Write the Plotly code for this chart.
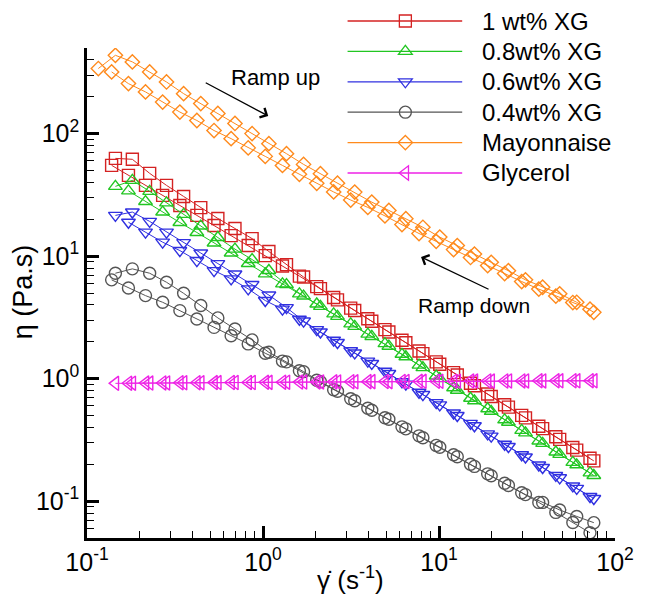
import math
import plotly.graph_objects as go

# Shear rates (1/s) of the ramp-up and ramp-down sweeps
shear_up = [0.116, 0.145, 0.181, 0.227, 0.283, 0.354, 0.443, 0.554, 0.693, 0.867,
            1.08, 1.36, 1.70, 2.12, 2.65, 3.32, 4.15, 5.19, 6.48, 8.10,
            10.1, 12.7, 15.9, 19.8, 24.8, 31.0, 38.8, 48.5, 60.6, 75.8]
shear_down = [0.138, 0.172, 0.215, 0.269, 0.337, 0.421, 0.527, 0.659, 0.824, 1.03,
              1.29, 1.61, 2.02, 2.52, 3.15, 3.94, 4.93, 6.16, 7.70, 9.64,
              12.1, 15.1, 18.9, 23.6, 29.5, 36.9, 46.1, 57.6, 72.1]

# Apparent viscosity (Pa.s); None = no reading at that shear rate
xg10_up = [None, 62.8, 61.7, 47.4, 37.8, 30.7, 24.9, 20.3, 16.8, 13.9,
           10.9, 8.53, 6.75, 5.43, 4.39, 3.60, 2.94, 2.40, 1.96, 1.60,
           1.31, 1.07, 0.875, 0.715, 0.585, 0.478, 0.391, 0.319, 0.261, 0.213]
xg10_down = [55.1, 45.6, 37.8, 31.3, 25.9, 21.5, 17.8, 14.7, 12.2, 10.1,
             8.30, 6.87, 5.64, 4.60, 3.76, 3.08, 2.51, 2.06, 1.68, 1.37,
             1.12, 0.917, 0.750, 0.612, 0.501, 0.409, 0.335, 0.274, 0.224]

xg08_up = [None, 37.1, 41.5, 33.8, 27.2, 21.9, 17.6, 14.2, 11.4, 9.38,
           7.63, 5.86, 4.72, 3.89, 3.22, 2.67, 2.21, 1.84, 1.51, 1.23,
           1.00, 0.804, 0.659, 0.541, 0.440, 0.361, 0.296, 0.241, 0.198, 0.162]
xg08_down = [None, 34.1, 27.9, 22.9, 18.8, 15.6, 12.8, 10.6, 8.70, 7.16,
             5.94, 4.92, 4.07, 3.38, 2.80, 2.31, 1.93, 1.58, 1.29, 1.05,
             0.843, 0.692, 0.568, 0.461, 0.378, 0.310, 0.252, 0.207, 0.170]

xg06_up = [None, 21.5, 22.9, 19.2, 15.7, 12.9, 10.6, 8.69, 7.14, 5.86,
           4.81, 3.80, 2.95, 2.40, 1.97, 1.62, 1.33, 1.10, 0.902, 0.741,
           0.610, 0.500, 0.412, 0.339, 0.279, 0.229, 0.188, 0.155, 0.127, 0.105]
xg06_down = [None, 18.9, 15.7, 13.0, 11.1, 9.20, 7.62, 6.52, 5.40, 4.34,
             3.69, 3.05, 2.51, 2.06, 1.69, 1.39, 1.15, 0.942, 0.774, 0.637,
             0.524, 0.431, 0.354, 0.291, 0.239, 0.197, 0.162, 0.133, 0.109]

xg04_up = [None, 7.25, 7.87, 7.25, 6.12, 4.97, 3.95, 3.13, 2.54, 2.07,
           1.64, 1.37, 1.14, 0.944, 0.789, 0.659, 0.552, 0.466, 0.389, 0.329,
           0.275, 0.230, 0.192, 0.161, 0.134, 0.113, 0.0976, 0.0847, 0.0750, 0.0667]
xg04_down = [6.40, 5.50, 4.76, 4.20, 3.59, 3.07, 2.62, 2.24, 1.92, 1.61,
             1.39, 1.16, 0.970, 0.811, 0.685, 0.573, 0.479, 0.404, 0.341, 0.285,
             0.239, 0.200, 0.167, 0.140, 0.117, 0.0976, 0.0809, 0.0670, 0.0552]

mayo_up = [340, 436, 385, 319, 264, 212, 176, 146, 121, 100,
           82.8, 68.6, 56.1, 47.1, 39.4, 33.3, 27.6, 23.6, 20.2, 17.2,
           14.3, 12.2, 10.4, 8.9, 7.6, 6.4, 5.57, 4.92, 4.20, 3.48]
mayo_down = [319, 256, 219, 181, 150, 128, 106, 91, 76.5, 65.2,
             55.0, 46.5, 39.3, 33.4, 28.7, 25.0, 21.3, 18.1, 15.3, 13.2,
             11.3, 9.75, 8.38, 7.21, 6.20, 5.38, 4.72, 4.18, 3.69]

glyc_up = [None, 0.915, 0.918, 0.92, 0.922, 0.925, 0.925, 0.928, 0.93, 0.93,
           0.932, 0.935, 0.937, 0.94, 0.94, 0.942, 0.945, 0.945, 0.948, 0.95,
           0.95, 0.952, 0.955, 0.955, 0.957, 0.958, 0.958, 0.96, 0.96, 0.96]
glyc_down = [None, 0.918, 0.92, 0.922, 0.925, 0.926, 0.928, 0.93, 0.931, 0.933,
             0.935, 0.937, 0.94, 0.941, 0.943, 0.945, 0.947, 0.948, 0.95, 0.952,
             0.953, 0.955, 0.956, 0.957, 0.958, 0.96, 0.96, 0.961, 0.962]

labels = ["1 wt% XG", "0.8wt% XG", "0.6wt% XG", "0.4wt% XG", "Mayonnaise", "Glycerol"]
major_ticks = [0.1, 1, 10, 100]
major_text = ["10<sup>-1</sup>", "10<sup>0</sup>", "10<sup>1</sup>", "10<sup>2</sup>"]

FONT = "Liberation Sans, Arial, sans-serif"
W, H = 646, 605
M = dict(l=87, r=20, t=48, b=67)
PW = W - M["l"] - M["r"]
PH = H - M["t"] - M["b"]


def fx(px):
    return (px - M["l"]) / PW


def fy(py):
    return (H - M["b"] - py) / PH


styles = [
    dict(color="#d42222", symbol="square-open", size=12),
    dict(color="#22c622", symbol="triangle-up-open", size=12),
    dict(color="#3030e0", symbol="triangle-down-open", size=12),
    dict(color="#555555", symbol="circle-open", size=12),
    dict(color="#ff8a1c", symbol="diamond-open", size=11),
    dict(color="#ee22e6", symbol="triangle-left-open", size=12.5),
]
curves = [
    (xg10_up, xg10_down), (xg08_up, xg08_down), (xg06_up, xg06_down),
    (xg04_up, xg04_down), (mayo_up, mayo_down), (glyc_up, glyc_down),
]

fig = go.Figure()
draw_order = [4, 0, 1, 2, 3, 5]
for i in draw_order:
    st = styles[i]
    up, down = curves[i]
    for xs, ys, tag in ((shear_up, up, "up"), (shear_down, down, "down")):
        fig.add_trace(go.Scatter(
            x=xs, y=ys, mode="lines+markers", name=f"{labels[i]} ({tag})",
            showlegend=False,
            line=dict(color=st["color"], width=1),
            marker=dict(symbol=st["symbol"], size=st["size"],
                        color=st["color"], line=dict(width=1.4, color=st["color"])),
        ))

# legend block drawn as shapes + text
shapes = []
annotations = []
row0, dy = 21, 30.4
for i, lab in enumerate(labels):
    st = styles[i]
    yy = fy(row0 + dy * i)
    shapes.append(dict(type="line", xref="paper", yref="paper",
                       x0=fx(353), x1=fx(470), y0=yy, y1=yy,
                       line=dict(color=st["color"], width=1.3)))
    base = dict(xref="paper", yref="paper", xsizemode="pixel", ysizemode="pixel",
                xanchor=fx(412), yanchor=yy,
                line=dict(color=st["color"], width=1.3), fillcolor="rgba(0,0,0,0)")
    r = st["size"] / 2
    rt = r * 2 / math.sqrt(3)
    r2 = r / 2
    sym = st["symbol"]
    if sym == "square-open":
        shapes.append(dict(type="rect", x0=-r, x1=r, y0=-r, y1=r, **base))
    elif sym == "circle-open":
        shapes.append(dict(type="circle", x0=-r, x1=r, y0=-r, y1=r, **base))
    elif sym == "diamond-open":
        d = r * 1.3
        shapes.append(dict(type="path", path=f"M0,{d} L{d},0 L0,{-d} L{-d},0 Z", **base))
    elif sym == "triangle-up-open":
        shapes.append(dict(type="path",
                           path=f"M{-rt},{-r2} L{rt},{-r2} L0,{r} Z", **base))
    elif sym == "triangle-down-open":
        shapes.append(dict(type="path",
                           path=f"M{-rt},{r2} L{rt},{r2} L0,{-r} Z", **base))
    elif sym == "triangle-left-open":
        shapes.append(dict(type="path",
                           path=f"M{r2},{-rt} L{r2},{rt} L{-r},0 Z", **base))
    annotations.append(dict(xref="paper", yref="paper", x=fx(488), y=yy,
                            xanchor="left", yanchor="middle", showarrow=False,
                            text=lab, font=dict(family=FONT, size=24, color="black")))

# ramp direction notes
annotations += [
    dict(xref="paper", yref="paper", x=fx(279), y=fy(78), text="Ramp up",
         xanchor="center", yanchor="middle",
         showarrow=False, font=dict(family=FONT, size=22, color="black")),
    dict(xref="paper", yref="paper", x=fx(272), y=fy(116), ax=-64, ay=-34,
         text="", showarrow=True, arrowhead=4, arrowsize=1.6, arrowwidth=1.3,
         arrowcolor="black"),
    dict(xref="paper", yref="paper", x=fx(482), y=fy(305), text="Ramp down",
         xanchor="center", yanchor="middle",
         showarrow=False, font=dict(family=FONT, size=21, color="black")),
    dict(xref="paper", yref="paper", x=fx(428), y=fy(257), ax=69, ay=33,
         text="", showarrow=True, arrowhead=4, arrowsize=1.6, arrowwidth=1.3,
         arrowcolor="black"),
]

# axis titles
annotations += [
    dict(xref="paper", yref="paper", x=fx(356), y=fy(578), text="γ̇ (s<sup>-1</sup>)",
         xanchor="center", yanchor="middle", showarrow=False,
         font=dict(family=FONT, size=26, color="black")),
    dict(xref="paper", yref="paper", x=fx(22), y=fy(292), text="η (Pa.s)",
         textangle=-90, xanchor="center", yanchor="middle", showarrow=False,
         font=dict(family=FONT, size=27, color="black")),
]

minor_x = [m * 10 ** e for e in (-1, 0, 1) for m in range(2, 10)]
minor_y = [m * 10 ** e for e in (-2, -1, 0, 1, 2) for m in range(2, 10)
           if 0.05 <= m * 10 ** e <= 500]

axis_common = dict(
    type="log", showline=True, linecolor="black", linewidth=2.5, mirror=False,
    showgrid=False, zeroline=False, ticks="inside", ticklen=12, tickwidth=2.5,
    tickcolor="black", tickvals=major_ticks, ticktext=major_text,
    tickfont=dict(family=FONT, size=25, color="black"),
)

fig.update_layout(
    width=W, height=H, margin=M,
    paper_bgcolor="white", plot_bgcolor="white",
    font=dict(family=FONT, color="black"),
    showlegend=False,
    shapes=shapes, annotations=annotations,
    xaxis=dict(range=[-1, 2],
               minor=dict(ticks="inside", ticklen=7, tickwidth=1, tickcolor="black",
                          tickvals=minor_x),
               **axis_common),
    yaxis=dict(range=[math.log10(0.05), math.log10(500)],
               minor=dict(ticks="inside", ticklen=7, tickwidth=1, tickcolor="black",
                          tickvals=minor_y),
               **axis_common),
)

fig.write_html("out.html")
